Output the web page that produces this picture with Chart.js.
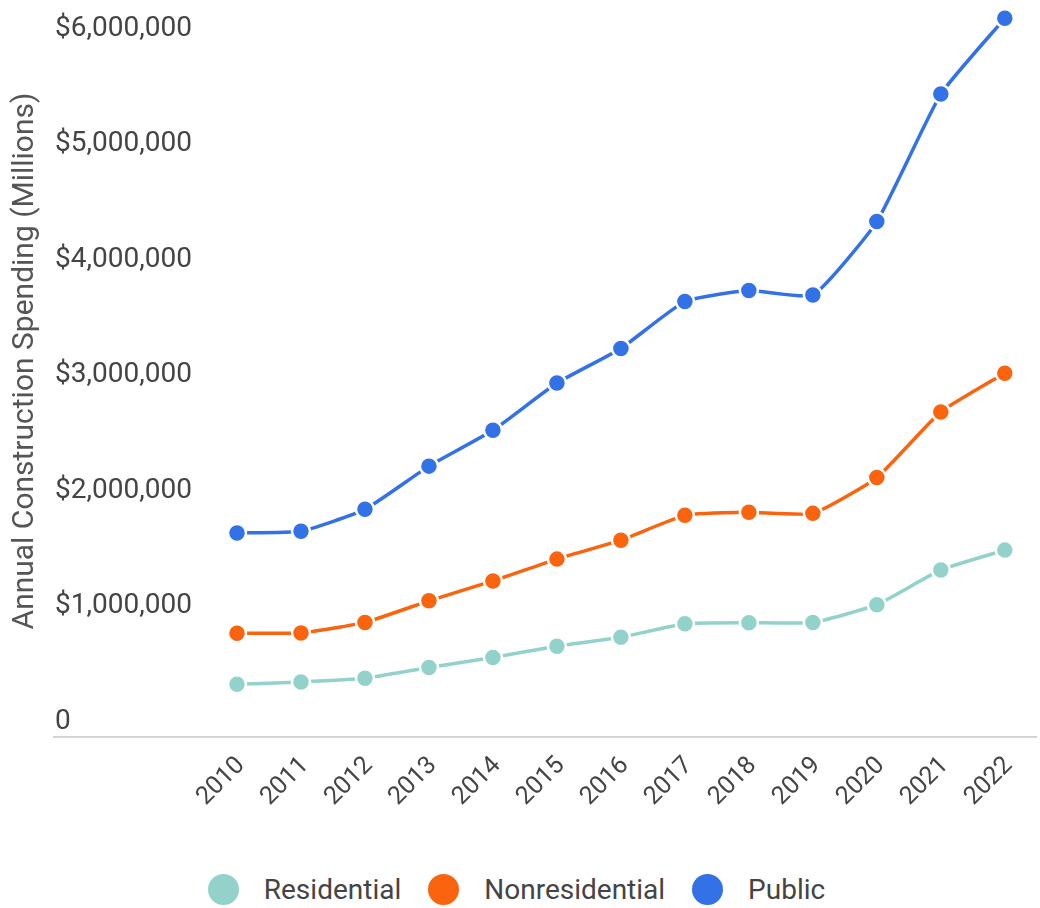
<!DOCTYPE html>
<html>
<head>
<meta charset="utf-8">
<script src="https://cdn.jsdelivr.net/npm/chart.js@4.4.1/dist/chart.umd.min.js"></script>
<style>
  body { margin: 0; background: #fff; }
  #wrap { position: relative; width: 1040px; height: 908px; }
  #box { position: absolute; left: 0; top: 0; width: 1040px; height: 860px; }
  #legend {
    position: absolute; left: 0; top: 873px; width: 1040px; height: 32px;
    display: flex; justify-content: center; align-items: center;
    font-family: Roboto, sans-serif; font-size: 28px; color: #444;
    box-sizing: border-box; padding-right: 7px;
  }
  .item { display: flex; align-items: center; margin-right: 27px; }
  .item:last-child { margin-right: 0; }
  .dot { width: 31px; height: 31px; border-radius: 50%; margin-right: 25px; }
</style>
</head>
<body>
<div id="wrap">
  <div id="box"><canvas id="spendChart"></canvas></div>
  <div id="legend"></div>
</div>
<script>
var years = ['2010', '2011', '2012', '2013', '2014', '2015', '2016', '2017', '2018', '2019', '2020', '2021', '2022'];
var residential = [456000, 476000, 508000, 602000, 688000, 786000, 863000, 981000, 990000, 992000, 1145000, 1446000, 1618000];
var nonresidential = [898000, 901000, 992000, 1179000, 1351000, 1540000, 1704000, 1919000, 1945000, 1936000, 2246000, 2814000, 3150000];
var publicSpend = [1767000, 1781000, 1971000, 2345000, 2655000, 3064000, 3364000, 3770000, 3865000, 3827000, 4462000, 5566000, 6222000];
var seriesNames = ['Residential', 'Nonresidential', 'Public'];
var seriesColors = ['#93d2ca', '#fa640f', '#3371e6'];
var yTicks = [0, 1000000, 2000000, 3000000, 4000000, 5000000, 6000000];

var textColor = '#444';

function makeSet(i, values) {
  return {
    label: seriesNames[i],
    data: values,
    borderColor: seriesColors[i],
    backgroundColor: seriesColors[i],
    borderWidth: 3.5,
    tension: 0.15,
    pointRadius: 9,
    pointHoverRadius: 9,
    pointBorderColor: '#fff',
    pointBorderWidth: 2.5,
    clip: false
  };
}

// light baseline across the whole width, and the rotated y title
var extras = {
  id: 'extras',
  beforeDatasetsDraw: function(chart) {
    var ctx = chart.ctx;
    var y = chart.scales.y.getPixelForValue(0);
    ctx.save();
    ctx.strokeStyle = '#d4d4d4';
    ctx.lineWidth = 2;
    ctx.beginPath();
    ctx.moveTo(53, y);
    ctx.lineTo(chart.width - 3, y);
    ctx.stroke();
    ctx.restore();
  },
  afterDraw: function(chart) {
    var ctx = chart.ctx;
    ctx.save();
    ctx.translate(25, 361);
    ctx.rotate(-Math.PI / 2);
    ctx.font = '30px Roboto';
    ctx.fillStyle = '#555';
    ctx.textAlign = 'center';
    ctx.textBaseline = 'middle';
    ctx.fillText('Annual Construction Spending (Millions)', 0, 0);
    ctx.restore();
  }
};

var spendChart = document.getElementById('spendChart').getContext('2d');
var chart = new Chart(spendChart, {
  type: 'line',
  data: {
    labels: years,
    datasets: [makeSet(0, residential), makeSet(1, nonresidential), makeSet(2, publicSpend)]
  },
  plugins: [extras],
  options: {
    responsive: true,
    maintainAspectRatio: false,
    animation: false,
    layout: { padding: { left: 55, right: 34, top: 5, bottom: 0 } },
    plugins: {
      legend: { display: false },
      tooltip: { enabled: false }
    },
    scales: {
      x: {
        offset: false,
        grid: { display: false, drawTicks: false },
        border: { display: false },
        afterFit: function(scale) { scale.height = 123; },
        ticks: {
          minRotation: 45,
          maxRotation: 45,
          padding: 14,
          labelOffset: 4,
          color: textColor,
          font: { family: 'Roboto', size: 25 }
        }
      },
      y: {
        min: 0,
        max: 6235000,
        grid: { display: false, drawTicks: false },
        border: { display: false },
        afterFit: function(scale) { scale.width = 182; },
        afterBuildTicks: function(scale) {
          scale.ticks = yTicks.map(function(v) { return { value: v }; });
        },
        ticks: {
          crossAlign: 'far',
          labelOffset: -15,
          padding: 0,
          color: textColor,
          font: { family: 'Roboto', size: 28 },
          callback: function(value) {
            return value === 0 ? '0' : '$' + value.toLocaleString('en-US');
          }
        }
      }
    }
  }
});

var legend = document.getElementById('legend');
seriesNames.forEach(function(name, i) {
  var item = document.createElement('div');
  item.className = 'item';
  var dot = document.createElement('span');
  dot.className = 'dot';
  dot.style.background = seriesColors[i];
  var txt = document.createElement('span');
  txt.textContent = name;
  item.appendChild(dot);
  item.appendChild(txt);
  legend.appendChild(item);
});
</script>
</body>
</html>
